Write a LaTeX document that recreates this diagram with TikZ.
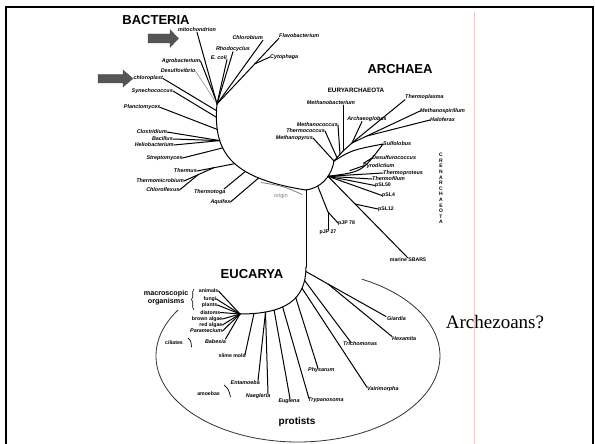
\documentclass[tikz,border=0pt]{standalone}
\usepackage{fontspec}
\setmainfont{Liberation Sans}
\newfontfamily\serifA{Liberation Serif}
\usetikzlibrary{calc,decorations.pathreplacing}
\definecolor{arrowgray}{RGB}{85,85,85}
\definecolor{pinkline}{RGB}{246,196,196}
\definecolor{origingray}{RGB}{125,125,125}
\tikzset{
  sp/.style={font=\fontsize{5.4}{6}\selectfont\bfseries\itshape, inner sep=0pt},
  gp/.style={font=\fontsize{5.2}{6}\selectfont\bfseries, inner sep=0pt},
  big/.style={font=\fontsize{13}{14}\selectfont\bfseries, inner sep=0pt},
  twig/.style={line width=1pt, line cap=round},
  blockarrow/.style={fill=arrowgray, draw=black!70, line width=0.3pt},
}
\begin{document}
\begin{tikzpicture}[x=1pt,y=-1pt]
\useasboundingbox (0,0) rectangle (595,444);
% frame and guide line
\draw[line width=2pt] (6,450) -- (6,7) -- (593,7) -- (593,450);
\draw[pinkline, line width=0.7pt] (474,12) -- (474,444);

% headings
\node[big] (bact) at (156,20) {BACTERIA};
\node[big] (arch) at (400,69) {ARCHAEA};
\node[big] (euca) at (252,274) {EUCARYA};
\node[font=\fontsize{6.3}{7}\selectfont\bfseries, inner sep=0pt] (eury) at (356,90.5) {EURYARCHAEOTA};
\node[font=\fontsize{5}{5.6}\selectfont\bfseries, align=center, inner sep=0pt] (cren) at (441,188.5)
  {C\\R\\E\\N\\A\\R\\C\\H\\A\\E\\O\\T\\A};
\node[font=\fontsize{10}{12}\selectfont\bfseries, inner sep=0pt] (prot) at (297,422) {protists};
\node[font=\serifA\fontsize{19}{22}\selectfont, inner sep=0pt] (arz) at (495,322) {Archezoans?};

% block arrows
\filldraw[blockarrow] (148,34) -- (170,34) -- (170,29.5) -- (178.5,38.5) -- (170,47.5) -- (170,43) -- (148,43) -- cycle;
\filldraw[blockarrow] (98,74.5) -- (123,74.5) -- (123,70) -- (133,78.5) -- (123,87) -- (123,83) -- (98,83) -- cycle;

% ---------------- trunk and bacterial backbone
\coordinate (T) at (306,190);
\coordinate (TE) at (306,267);
\coordinate (bTop) at (217,104);
\draw[twig] (bTop) .. controls (213,150) and (228,178) .. (T);
\draw[twig] (T) -- (TE);

% bacterial labels
\node[sp] (mito) at (197,30) {mitochondrion};
\node[sp, anchor=east] (agro) at (200.5,61) {Agrobacterium};
\node[sp, anchor=east] (desu) at (195.5,71) {Desulfovibrio};
\node[sp, anchor=east] (chlp) at (163,78.5) {chloroplast};
\node[sp, anchor=east] (syne) at (173,91) {Synechococcus};
\node[sp, anchor=east] (plan) at (160.5,107.5) {Planctomyces};
\node[sp, anchor=south east] (ecoli) at (227,59.5) {E. coli};
\node[sp] (rhod) at (233,49) {Rhodocyclus};
\node[sp, anchor=east] (chlb) at (263,38) {Chlorobium};
\node[sp, anchor=west] (flav) at (279,36) {Flavobacterium};
\node[sp, anchor=west] (cyto) at (270,57) {Cytophaga};
\node[sp, anchor=east] (clos) at (167,132) {Clostridium};
\node[sp, anchor=east] (baci) at (173,139) {Bacillus};
\node[sp, anchor=east] (heli) at (174,145) {Heliobacterium};
\node[sp, anchor=east] (strp) at (182.5,158) {Streptomyces};
\node[sp, anchor=east] (thms) at (197,171) {Thermus};
\node[sp, anchor=east] (tmic) at (184,181) {Thermomicrobium};
\node[sp, anchor=east] (chlf) at (179.5,190) {Chloroflexus};
\node[sp, anchor=north east] (toga) at (225.5,189) {Thermotoga};
\node[sp, anchor=east] (aqui) at (230.5,202) {Aquifex};

\coordinate (jAgro) at (215.9,100);
\coordinate (jB1) at (216.4,110.6);
\coordinate (jB2) at (216.5,117.3);
\coordinate (jB3) at (217.2,129.4);
\coordinate (jCBH) at (219.7,140.6);
\coordinate (jStr) at (222.8,147.9);
\coordinate (jThe) at (234.7,163.7);
\coordinate (jToga) at (245.3,171.5);
\coordinate (jAqu) at (258.6,178);

\draw[twig] (mito.south) -- (bTop);
\draw[twig] (agro.east) -- (jAgro);
\draw[gray, line width=0.5pt] (desu.east) -- (bTop);
\draw[twig] (chlp.east) -- (jB1);
\draw[twig] (syne.east) -- (jB2);
\draw[twig] (plan.east) -- (jB3);
\draw[twig] (ecoli.south east) -- (bTop);
\draw[twig] (rhod.south) -- (bTop);
\draw[twig] (chlb.south east) -- (bTop);
\draw[twig] (flav.south west) -- (bTop);
\coordinate (jCyto) at ($(flav.south west)!0.39!(bTop)$);
\draw[twig] (cyto.west) -- (jCyto);
\draw[twig] (clos.east) -- (jCBH);
\draw[twig] (baci.east) -- (jCBH);
\draw[twig] (heli.east) -- (jCBH);
\draw[twig] (strp.east) -- (jStr);
\draw[twig] (thms.east) -- (jThe);
\coordinate (j1) at ($(thms.east)!0.44!(jThe)$);
\draw[twig] (tmic.east) -- (j1);
\coordinate (jC) at ($(tmic.east)!0.48!(j1)$);
\draw[twig] (chlf.east) -- (jC);
\draw[twig] ([xshift=-1.5pt]toga.north east) -- (jToga);
\draw[twig] (aqui.east) -- (jAqu);

% origin
\coordinate (o1) at (261,182.5);
\coordinate (o2) at (302,194.5);
\draw[origingray, line width=0.8pt] (o1) .. controls (283,186) .. (o2);
\node[font=\fontsize{5.6}{6}\selectfont, text=origingray, inner sep=0pt] (orig) at (281,196.5) {origin};

% ---------------- Archaea
\coordinate (E) at (334,161);
\coordinate (M1) at (343,151);
\coordinate (M2) at (352,143);
\coordinate (C) at (328,176.3);
\coordinate (jPJ0) at (317.7,186);
\coordinate (jPJ) at (328,212);
\coordinate (jTc) at (337,157.7);
\coordinate (jMc) at (340,154.3);
\draw[twig] (T) .. controls (320,188) and (331,178) .. (E);
\draw[twig] (E) -- (M1) -- (M2);

\node[sp] (mbac) at (331,103) {Methanobacterium};
\node[sp] (aglo) at (367,119) {Archaeoglobus};
\node[sp, anchor=east] (mcoc) at (338,125) {Methanococcus};
\node[sp, anchor=east] (tcoc) at (325,131) {Thermococcus};
\node[sp, anchor=east] (mpyr) at (313,138) {Methanopyrus};
\node[sp, anchor=west] (tpla) at (405,97) {Thermoplasma};
\node[sp, anchor=west] (mspi) at (420,111) {Methanospirillum};
\node[sp, anchor=west] (halo) at (430,120) {Haloferax};
\node[sp, anchor=west] (sulf) at (383,144) {Sulfolobus};
\node[sp, anchor=west] (desc) at (372,158) {Desulfurococcus};
\node[sp, anchor=west] (pyro) at (363,166) {Pyrodictium};
\node[sp, anchor=west] (tpro) at (383,173) {Thermoproteus};
\node[sp, anchor=west] (tfil) at (372,179) {Thermofilum};
\node[gp, anchor=west] (psl50) at (375,185.5) {pSL50};
\node[gp, anchor=west] (psl4) at (382,195.5) {pSL4};
\node[gp, anchor=west] (psl12) at (378,209) {pSL12};
\node[gp, anchor=north] (mar) at (408,258) {marine SBAR5};
\node[gp, anchor=west] (pj78) at (338,223) {pJP 78};
\node[gp, anchor=north] (pj27) at (328,229.5) {pJP 27};

\coordinate (tAglo) at (362,121.5);
\draw[twig] (mpyr.east) -- (E);
\draw[twig] (tcoc.east) -- (jTc);
\draw[twig] (mcoc.east) -- (jMc);
\draw[twig] (mbac.south -| M1) -- (M1);
\draw[twig] (tAglo) -- (M2);
\draw[twig] (tpla.south west) -- (M2);
\draw[twig] (mspi.west) -- (M2);
\coordinate (jHf) at ($(M2)!0.22!(mspi.west)$);
\draw[twig] (halo.west) -- (jHf);
% crenarchaeal lens and fan
\draw[twig] (E) .. controls (352,150) .. (sulf.west);
\draw[twig] (C) .. controls (362,172) .. (sulf.west);
\coordinate (jDs) at (363.5,163.3);
\coordinate (jPy) at (350,170.5);
\draw[twig] (jDs) -- (desc.west);
\draw[twig] (jPy) -- (pyro.west);
\draw[twig] (C) -- (tpro.west);
\draw[twig] (C) -- (tfil.west);
\draw[twig] (C) -- (psl50.west);
\draw[twig] (C) -- (psl4.west);
\draw[twig] (C) -- (mar.north);
\coordinate (jSL) at ($(C)!0.34!(mar.north)$);
\draw[twig] (jSL) -- (psl12.west);
\draw[twig] (jPJ0) -- (jPJ) -- (pj78.west);
\draw[twig] (jPJ) -- (pj27.north);

% ---------------- Eucarya
\coordinate (N) at (240,314);
\draw[twig] (TE) .. controls (306,300) and (285,314) .. (N);

\node[gp, anchor=east] (anim) at (218.5,291) {animals};
\node[gp, anchor=east] (fung) at (216.5,299) {fungi};
\node[gp, anchor=east] (plnt) at (217.5,305) {plants};
\node[gp, anchor=east] (diat) at (220.5,312.5) {diatoms};
\node[gp, anchor=east] (brow) at (222.5,319) {brown algae};
\node[gp, anchor=east] (reda) at (222.5,325) {red algae};
\node[sp, anchor=east] (para) at (222.5,331) {Paramecium};
\node[sp, anchor=north east] (babe) at (226,339) {Babesia};
\node[font=\fontsize{7.2}{7.8}\selectfont\bfseries, align=center, inner sep=0pt, anchor=east] (macr) at (188.5,298) {macroscopic\\organisms};
\node[gp, anchor=east] (cili) at (183,343) {ciliates};
\node[gp, anchor=north east] (slim) at (246,353.5) {slime mold};
\node[sp, anchor=north east] (enta) at (260,380) {Entamoeba};
\node[gp, anchor=east] (amoe) at (220,393.5) {amoebas};
\node[sp, anchor=north east] (naeg) at (270.5,393) {Naegleria};
\node[sp, anchor=north] (eugl) at (289,398) {Euglena};
\node[sp, anchor=north west] (tryp) at (308,398) {Trypanosoma};
\node[sp, anchor=north west] (phys) at (308,367.5) {Physarum};
\node[sp, anchor=north west] (vair) at (367,386.5) {Vairimorpha};
\node[sp, anchor=north west] (tric) at (343,341) {Trichomonas};
\node[sp, anchor=north west] (hexa) at (392,336.5) {Hexamita};
\node[sp, anchor=north west] (giar) at (387,316.5) {Giardia};

\draw[twig] (N) -- (anim.east);
\draw[twig] (N) -- (fung.east);
\draw[twig] (N) -- (plnt.east);
\draw[twig] (N) -- (diat.east);
\draw[twig] (N) -- (brow.east);
\draw[twig] (N) -- (reda.east);
\draw[twig] (N) -- (para.east);
\draw[twig] (N) -- ([xshift=-0.5pt]babe.north east);

\coordinate (rG) at (305.9,271.5);
\coordinate (G1) at (328,284);
\coordinate (rTri) at (304.5,280.4);
\coordinate (rVai) at (302,288.2);
\coordinate (rPhy) at (295.8,297.8);
\coordinate (rTry) at (282.6,306.9);
\coordinate (rEug) at (274.1,310.1);
\coordinate (rEN) at (265.5,312.2);
\coordinate (rSli) at (254,313.5);

\draw[twig] (rG) -- (G1) -- ([xshift=-1pt]giar.north west);
\draw[twig] (G1) -- (hexa.north west);
\draw[twig] (rTri) -- ([xshift=8pt, yshift=-1.5pt]tric.north west);
\draw[twig] (rVai) -- ([yshift=-0.8pt]vair.north west);
\draw[twig] (rPhy) -- ([xshift=10pt, yshift=-0.8pt]phys.north west);
\draw[twig] (rTry) -- ([xshift=1pt, yshift=-0.6pt]tryp.north west);
\draw[twig] (rEug) -- ([xshift=1pt, yshift=-0.6pt]eugl.north);
\draw[twig] (rEN) -- ([xshift=-2.5pt, yshift=-0.6pt]naeg.north east);
\draw[twig] (rEN) -- ([xshift=-2pt, yshift=-0.8pt]enta.north east);
\draw[twig] (rSli) -- ([xshift=-1pt, yshift=-1pt]slim.north east);

% braces
\coordinate (brA) at (194,310);
\coordinate (brB) at (194,289);
\draw[line width=0.6pt, decorate, decoration={brace, amplitude=2.5pt}] (brA) -- (brB);
\coordinate (ci1) at (188,338);
\coordinate (ci2) at (191.5,347);
\draw[line width=0.7pt] (ci1) .. controls (191,341) .. (ci2);
\coordinate (am1) at (224,385);
\coordinate (am2) at (230.5,397);
\draw[line width=0.7pt] (am1) .. controls (228.5,389) .. (am2);

% protist ellipse
\draw[line width=0.8pt, black!80] (298,356) ++(212.3:142 and 86) arc[start angle=212.3, end angle=-63.3, x radius=142, y radius=86];
\end{tikzpicture}
\end{document}
